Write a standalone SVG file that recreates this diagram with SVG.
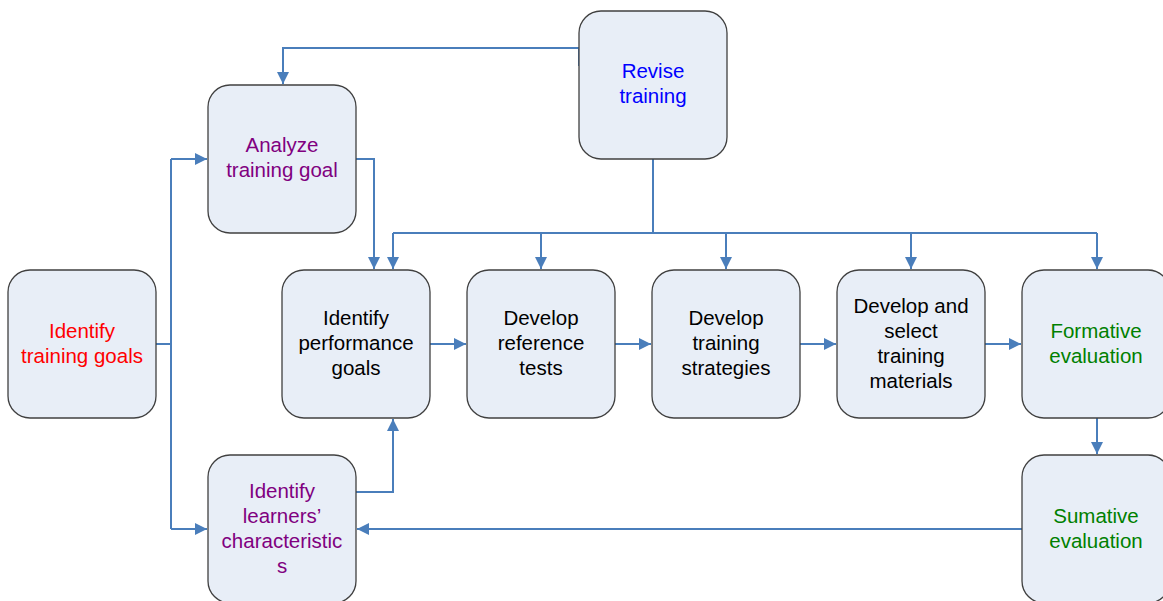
<svg xmlns="http://www.w3.org/2000/svg" width="1163" height="601" viewBox="0 0 1163 601">
<style>
.box{fill:#E8EEF7;stroke:#404040;stroke-width:1.3}
.t{font-family:"Liberation Sans",Arial,sans-serif;font-size:20.5px;text-anchor:middle}
.ln{fill:none;stroke:#4A7EBB;stroke-width:2}
.red{fill:#FF0000}.pur{fill:#800080}.blu{fill:#0000FF}.grn{fill:#008000}.blk{fill:#000000}
</style>
<defs>
<marker id="ah" viewBox="0 0 10 10" refX="10" refY="5" markerWidth="6" markerHeight="6" orient="auto" markerUnits="strokeWidth">
<path d="M0,0 L10,5 L0,10 z" fill="#4A7EBB"/>
</marker>
</defs>
<rect width="1163" height="601" fill="#FFFFFF"/>
<g id="connectors">
<path class="ln" d="M579,66 V48 H283 V84" marker-end="url(#ah)"/>
<path class="ln" d="M653,159 V233"/>
<path class="ln" d="M393,233 H1097"/>
<path class="ln" d="M393,233 V269" marker-end="url(#ah)"/>
<path class="ln" d="M541,233 V269" marker-end="url(#ah)"/>
<path class="ln" d="M726,233 V269" marker-end="url(#ah)"/>
<path class="ln" d="M911,233 V269" marker-end="url(#ah)"/>
<path class="ln" d="M1097,233 V269" marker-end="url(#ah)"/>
<path class="ln" d="M356,159 H374 V269" marker-end="url(#ah)"/>
<path class="ln" d="M156,344 H171"/>
<path class="ln" d="M171,159 V529"/>
<path class="ln" d="M171,159 H207" marker-end="url(#ah)"/>
<path class="ln" d="M171,529 H207" marker-end="url(#ah)"/>
<path class="ln" d="M356,492 H393 V419" marker-end="url(#ah)"/>
<path class="ln" d="M430,344 H466" marker-end="url(#ah)"/>
<path class="ln" d="M615,344 H651" marker-end="url(#ah)"/>
<path class="ln" d="M800,344 H836" marker-end="url(#ah)"/>
<path class="ln" d="M985,344 H1021" marker-end="url(#ah)"/>
<path class="ln" d="M1097,418 V454" marker-end="url(#ah)"/>
<path class="ln" d="M1022,529 H357" marker-end="url(#ah)"/>
</g>
<g id="revise">
<rect class="box" x="579" y="11" width="148" height="148" rx="22"/>
<text class="t blu" x="653" y="78">Revise</text>
<text class="t blu" x="653" y="103">training</text>
</g>
<g id="analyze">
<rect class="box" x="208" y="85" width="148" height="148" rx="22"/>
<text class="t pur" x="282" y="152">Analyze</text>
<text class="t pur" x="282" y="177">training goal</text>
</g>
<g id="identify-training-goals">
<rect class="box" x="8" y="270" width="148" height="148" rx="22"/>
<text class="t red" x="82" y="338">Identify</text>
<text class="t red" x="82" y="363">training goals</text>
</g>
<g id="identify-performance-goals">
<rect class="box" x="282" y="270" width="148" height="148" rx="22"/>
<text class="t blk" x="356" y="325">Identify</text>
<text class="t blk" x="356" y="350">performance</text>
<text class="t blk" x="356" y="375">goals</text>
</g>
<g id="develop-reference-tests">
<rect class="box" x="467" y="270" width="148" height="148" rx="22"/>
<text class="t blk" x="541" y="325">Develop</text>
<text class="t blk" x="541" y="350">reference</text>
<text class="t blk" x="541" y="375">tests</text>
</g>
<g id="develop-training-strategies">
<rect class="box" x="652" y="270" width="148" height="148" rx="22"/>
<text class="t blk" x="726" y="325">Develop</text>
<text class="t blk" x="726" y="350">training</text>
<text class="t blk" x="726" y="375">strategies</text>
</g>
<g id="develop-select-materials">
<rect class="box" x="837" y="270" width="148" height="148" rx="22"/>
<text class="t blk" x="911" y="313">Develop and</text>
<text class="t blk" x="911" y="338">select</text>
<text class="t blk" x="911" y="363">training</text>
<text class="t blk" x="911" y="388">materials</text>
</g>
<g id="formative-evaluation">
<rect class="box" x="1022" y="270" width="148" height="148" rx="22"/>
<text class="t grn" x="1096" y="338">Formative</text>
<text class="t grn" x="1096" y="363">evaluation</text>
</g>
<g id="identify-learners">
<rect class="box" x="208" y="455" width="148" height="148" rx="22"/>
<text class="t pur" x="282" y="498">Identify</text>
<text class="t pur" x="282" y="523">learners’</text>
<text class="t pur" x="282" y="548">characteristic</text>
<text class="t pur" x="282" y="573">s</text>
</g>
<g id="sumative-evaluation">
<rect class="box" x="1022" y="455" width="148" height="148" rx="22"/>
<text class="t grn" x="1096" y="523">Sumative</text>
<text class="t grn" x="1096" y="548">evaluation</text>
</g>
</svg>
